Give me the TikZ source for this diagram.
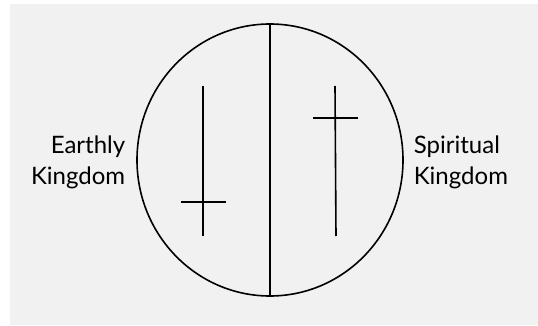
\documentclass[tikz,border=0pt]{standalone}
\usepackage{fontspec}
\setmainfont{Lato}
\usetikzlibrary{positioning}

\begin{document}
\begin{tikzpicture}[x=1pt,y=-1pt,line width=1.6pt]
  \def\cx{270}
  \def\cy{160}
  \def\rx{133}
  \def\ry{136}
  \tikzset{kingdom/.style={font=\fontsize{24}{31}\selectfont,inner sep=0pt}}
  % page and grey panel
  \useasboundingbox[fill=white] (0,0) rectangle (538,326);
  \fill[black!5.5] (10,4) rectangle (538,325);
  % the circle, split in two
  \coordinate (centre) at (\cx,\cy);
  \draw (centre) ellipse [x radius=\rx, y radius=\ry];
  \coordinate (top) at (\cx,{\cy-\ry});
  \coordinate (bottom) at (\cx,{\cy+\ry});
  \draw (top) -- (bottom);
  \begin{scope}
    % left cross, bar low
    \coordinate (ltop) at (203,86);
    \coordinate (lfoot) at (203,236);
    \coordinate (lbarw) at (181,202);
    \coordinate (lbare) at (226,202);
    \draw (ltop) -- (lfoot);
    \draw (lbarw) -- (lbare);
  \end{scope}
  \begin{scope}
    % right cross, bar high
    \coordinate (rtop) at (335,86);
    \coordinate (rfoot) at (336,236);
    \coordinate (rbarw) at (313,118);
    \coordinate (rbare) at (358,118);
    \draw (rtop) -- (rfoot);
    \draw (rbarw) -- (rbare);
  \end{scope}
  \node[kingdom,anchor=east,align=right] (earthly) at (126,162) {Earthly\\Kingdom};
  \node[kingdom,anchor=west,align=left] (spiritual) at (413,162) {Spiritual\\Kingdom};
\end{tikzpicture}
\end{document}
